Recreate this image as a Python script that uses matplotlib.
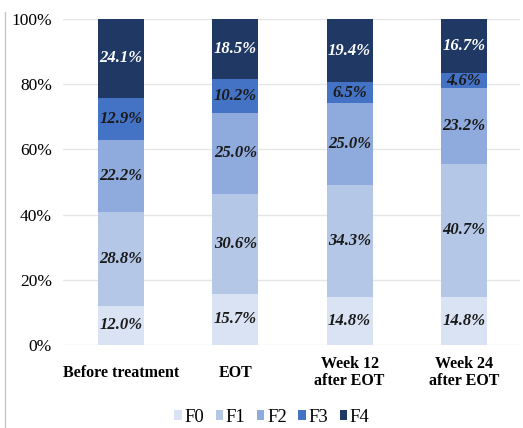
import matplotlib
matplotlib.use("Agg")
import matplotlib.pyplot as plt
from matplotlib.lines import Line2D
import numpy as np

categories = ["Before treatment", "EOT", "Week 12\nafter EOT", "Week 24\nafter EOT"]
stages = ["F0", "F1", "F2", "F3", "F4"]
f0 = [12.0, 15.7, 14.8, 14.8]
f1 = [28.8, 30.6, 34.3, 40.7]
f2 = [22.2, 25.0, 25.0, 23.2]
f3 = [12.9, 10.2, 6.5, 4.6]
f4 = [24.1, 18.5, 19.4, 16.7]
series = [f0, f1, f2, f3, f4]
colors = ["#dae3f3", "#b4c7e7", "#8faadc", "#4472c4", "#203864"]
text_colors = ["#1a1a1a", "#1a1a1a", "#1a1a1a", "#1a1a1a", "white"]
yticks = [0, 20, 40, 60, 80, 100]

plt.rcParams['font.family'] = ['Liberation Serif', 'DejaVu Serif']

fig = plt.figure(figsize=(5.23, 4.28), dpi=100)
ax = fig.add_axes([63/523, 1-345/428, (520-63)/523, (345-19)/428])

x = np.arange(len(categories))
bottom = np.zeros(len(categories))
for vals, col, tcol, name in zip(series, colors, text_colors, stages):
    vals = np.array(vals)
    ax.bar(x, vals, width=0.40, bottom=bottom, color=col, label=name, zorder=3)
    for xi, b, v in zip(x, bottom, vals):
        ax.text(xi, b + v / 2, f"{v:.1f}%", ha="center", va="center",
                fontsize=12, fontweight="bold", fontstyle="italic",
                color=tcol, zorder=4)
    bottom += vals

ax.set_ylim(0, 100)
ax.set_xlim(-0.507, 3.49)
ax.set_yticks(yticks)
ax.set_yticklabels([f"{t}%" for t in yticks], fontsize=12.5)
ax.yaxis.grid(True, color="#e6e6e6", linewidth=1, zorder=0)
ax.set_xticks(x)
ax.set_xticklabels(categories, fontsize=11.5, fontweight="bold",
                   linespacing=1.05, va="center")
ax.tick_params(axis="both", length=0)
ax.tick_params(axis="y", pad=8)
ax.tick_params(axis="x", pad=20)
for s in ax.spines.values():
    s.set_visible(False)

leg = fig.legend(loc="center", bbox_to_anchor=(0.52, 1-417/428), ncol=5,
                 frameon=False, fontsize=13.5, handlelength=0.4, handleheight=0.4,
                 handletextpad=0.15, columnspacing=0.6, borderpad=0.1)

fig.add_artist(Line2D([5/523, 5/523], [0, 1-12/428], color="#c8c8c8", linewidth=1))

fig.savefig("out.png", dpi=100)
